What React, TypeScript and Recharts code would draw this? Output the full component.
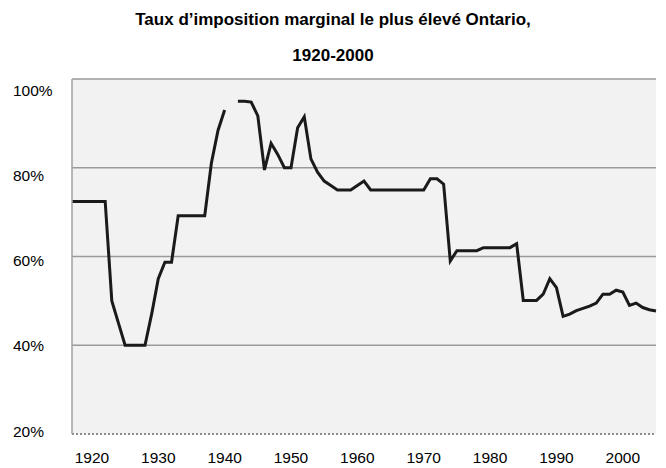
import { LineChart, Line, XAxis, YAxis, CartesianGrid, ReferenceLine } from "recharts";

const years = [
  1917, 1918, 1919, 1920, 1921, 1922, 1923, 1924, 1925, 1926,
  1927, 1928, 1929, 1930, 1931, 1932, 1933, 1934, 1935, 1936,
  1937, 1938, 1939, 1940, 1941, 1942, 1943, 1944, 1945, 1946,
  1947, 1948, 1949, 1950, 1951, 1952, 1953, 1954, 1955, 1956,
  1957, 1958, 1959, 1960, 1961, 1962, 1963, 1964, 1965, 1966,
  1967, 1968, 1969, 1970, 1971, 1972, 1973, 1974, 1975, 1976,
  1977, 1978, 1979, 1980, 1981, 1982, 1983, 1984, 1985, 1986,
  1987, 1988, 1989, 1990, 1991, 1992, 1993, 1994, 1995, 1996,
  1997, 1998, 1999, 2000, 2001, 2002, 2003, 2004, 2005,
];

// taux marginal le plus élevé (%), null = pas de donnée
const rates: (number | null)[] = [
  72.4, 72.4, 72.4, 72.4, 72.4, 72.4, 50, 45, 40, 40,
  40, 40, 47, 55, 58.7, 58.7, 69.2, 69.2, 69.2, 69.2,
  69.2, 81, 88.4, 93, null, 95, 95, 94.8, 91.7, 79.5,
  85.5, 83, 80, 80, 89, 91.5, 82, 79, 77, 76,
  75, 75, 75, 76, 77, 75, 75, 75, 75, 75,
  75, 75, 75, 75, 77.5, 77.5, 76.3, 59, 61.3, 61.3,
  61.3, 61.3, 62, 62, 62, 62, 62, 62.9, 50.1, 50.1,
  50.1, 51.5, 55, 53, 46.5, 47, 47.8, 48.3, 48.8, 49.5,
  51.5, 51.5, 52.4, 52, 49, 49.5, 48.5, 48, 47.7,
];

const xTicks = [1920, 1930, 1940, 1950, 1960, 1970, 1980, 1990, 2000];
const yTicks = [20, 40, 60, 80, 100];
const gridValues = [40, 60, 80, 100];

const data = years.map((year, i) => ({ year, rate: rates[i] }));

const font = "'Liberation Sans', Arial, sans-serif";

// the scanned original has its y labels slightly off the grid lines
function YTick(props: any) {
  const { y, payload } = props;
  const v = payload.value as number;
  const shift = 11 - ((100 - v) / 20) * 3.5;
  return (
    <text x={13} y={y + shift} dy="0.36em" textAnchor="start" fontSize={15.5} fill="#000" fontFamily={font}>
      {`${v}%`}
    </text>
  );
}

export default function App() {
  const titleStyle = {
    position: "absolute" as const,
    width: 666,
    textAlign: "center" as const,
    fontWeight: "bold",
    fontSize: 17,
    lineHeight: "20px",
  };
  return (
    <div style={{ position: "absolute", left: 0, top: 0, width: 666, height: 468, background: "#fff", fontFamily: font }}>
      <div style={{ ...titleStyle, top: 10 }}>Taux d’imposition marginal le plus élevé Ontario,</div>
      <div style={{ ...titleStyle, top: 46 }}>1920-2000</div>
      <LineChart
        width={666}
        height={468}
        data={data}
        margin={{ top: 79, right: 10, bottom: 0, left: 10 }}
      >
        <CartesianGrid
          fill="#f2f2f2"
          stroke="#9a9a9a"
          strokeWidth={1.5}
          vertical={false}
          horizontalValues={gridValues}
        />
        <XAxis
          dataKey="year"
          type="number"
          domain={[1917, 2005]}
          ticks={xTicks}
          axisLine={false}
          tickLine={false}
          tickMargin={12}
          height={34}
          tick={{ fontSize: 15.5, fill: "#000", fontFamily: font }}
        />
        <YAxis
          type="number"
          domain={[20, 100]}
          ticks={yTicks}
          width={62}
          axisLine={{ stroke: "#a0a0a0", strokeWidth: 1.5 }}
          tickLine={false}
          tick={<YTick />}
        />
        <ReferenceLine y={20} stroke="#8c8c8c" strokeWidth={2} strokeDasharray="2 2" />
        <Line
          type="linear"
          dataKey="rate"
          stroke="#1a1a1a"
          strokeWidth={3}
          dot={false}
          connectNulls={false}
          isAnimationActive={false}
        />
      </LineChart>
    </div>
  );
}
